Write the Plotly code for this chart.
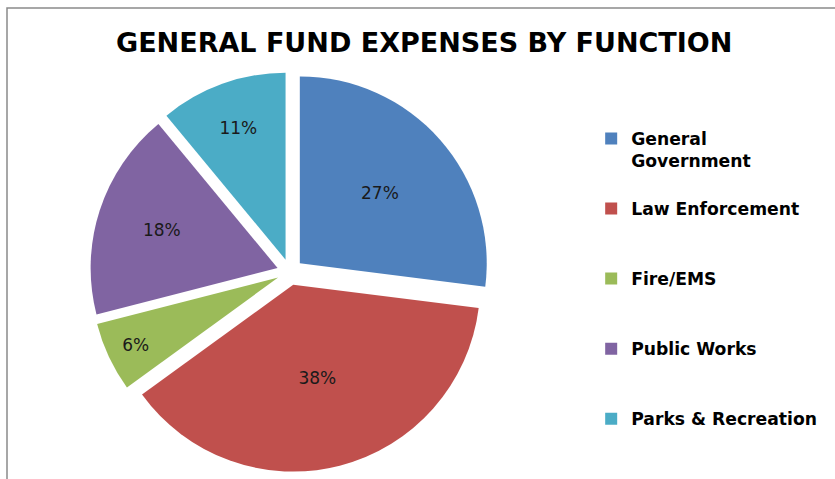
import plotly.graph_objects as go

categories = ["General Government", "Law Enforcement", "Fire/EMS", "Public Works", "Parks & Recreation"]
legend_labels = ["General<br>Government<br>&nbsp;", "Law Enforcement<br>&nbsp;<br>&nbsp;", "Fire/EMS<br>&nbsp;<br>&nbsp;",
                 "Public Works<br>&nbsp;<br>&nbsp;", "Parks & Recreation"]
values = [27, 38, 6, 18, 11]
colors = ["#4F81BD", "#C0504D", "#9BBB59", "#8064A2", "#4BACC6"]

fig = go.Figure()
fig.add_trace(go.Pie(
    labels=legend_labels,
    values=values,
    sort=False,
    direction="clockwise",
    rotation=0,
    pull=[0.07] * len(values),
    marker=dict(colors=colors, line=dict(width=0)),
    textinfo="percent",
    texttemplate="%{percent:.0%}",
    textposition="inside",
    insidetextorientation="horizontal",
    textfont=dict(family="DejaVu Sans", size=17, color="#1a1a1a"),
    domain=dict(x=[0.1018, 0.5928], y=[0.0146, 0.8497]),
    hovertext=categories,
    hoverinfo="text+percent",
))

fig.update_layout(
    width=835, height=479,
    margin=dict(l=0, r=0, t=0, b=0),
    paper_bgcolor="white",
    plot_bgcolor="white",
    title=dict(text="<b>GENERAL FUND EXPENSES BY FUNCTION</b>",
               x=0.508, xanchor="center", y=0.912, yanchor="middle",
               font=dict(family="DejaVu Sans", size=27, color="#000000")),
    legend=dict(x=0.708, y=0.748, xanchor="left", yanchor="top",
                font=dict(family="DejaVu Sans", size=17.2, color="#000000", weight=700),
                valign="top", traceorder="normal", itemclick=False),
    shapes=[dict(type="rect", xref="paper", yref="paper",
                 x0=7 / 835, x1=1.02, y0=-0.02, y1=1 - 8 / 479,
                 line=dict(color="#8a8a8a", width=1.5))],
)

fig.write_html("out.html")
